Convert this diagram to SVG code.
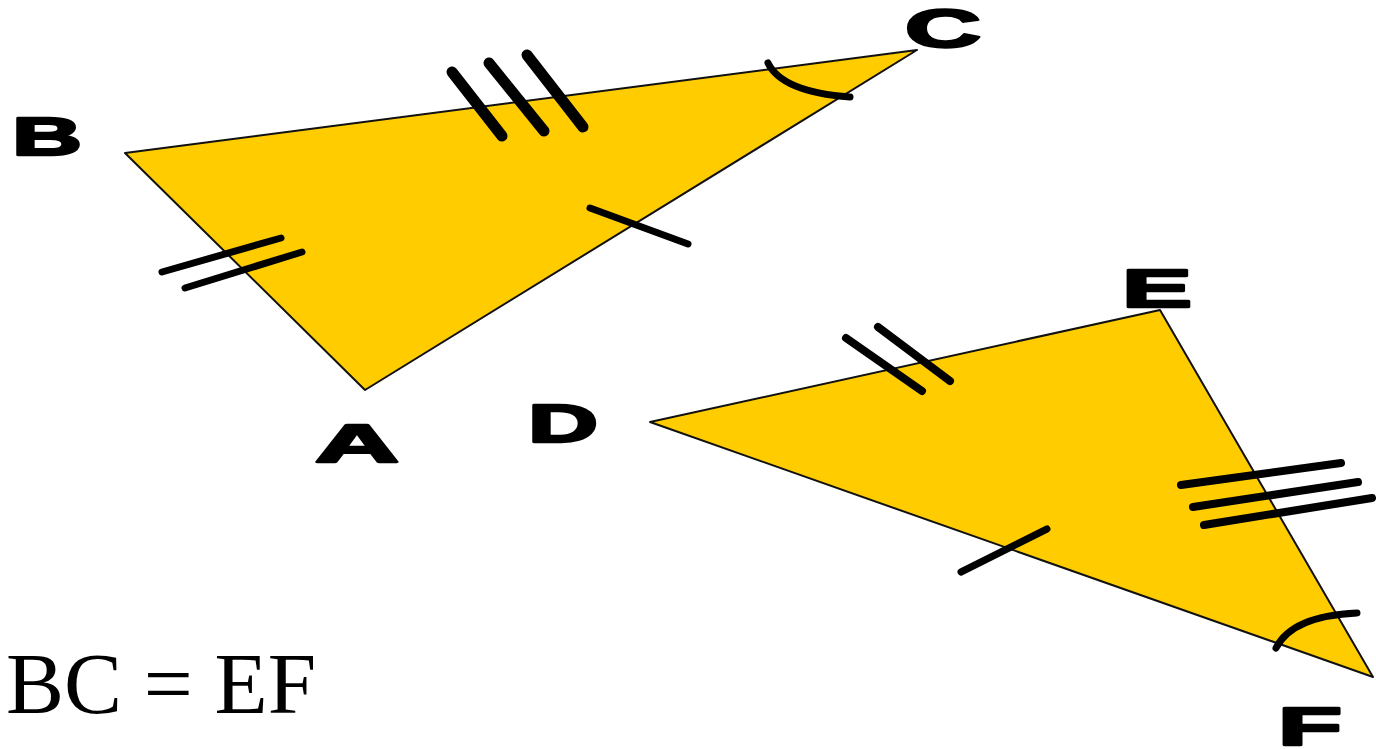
<svg xmlns="http://www.w3.org/2000/svg" width="1376" height="749" viewBox="0 0 1376 749">
<style>
.tri{fill:#FFCC00;stroke:#111;stroke-width:2;stroke-linejoin:round}
.tk{stroke:#000;stroke-linecap:round;fill:none}
.lbl{font-family:"Liberation Sans",Arial,sans-serif;font-weight:bold;font-size:54px;fill:#000;stroke:#000;stroke-width:2.5;stroke-linejoin:round}
.eq{font-family:"Liberation Serif","Times New Roman",serif;font-size:87px;fill:#000}
</style>
<rect width="1376" height="749" fill="#fff"/>
<g id="triangleABC">
<polygon class="tri" points="125,153 917,50 365,390"/>
<line class="tk" stroke-width="11" x1="452" y1="72" x2="502" y2="136"/>
<line class="tk" stroke-width="11" x1="489" y1="63" x2="544" y2="131"/>
<line class="tk" stroke-width="11" x1="527" y1="55" x2="583" y2="127"/>
<line class="tk" stroke-width="7" x1="590" y1="208" x2="688" y2="244"/>
<line class="tk" stroke-width="7" x1="162" y1="272" x2="281" y2="238"/>
<line class="tk" stroke-width="7" x1="185" y1="288" x2="302" y2="252"/>
<path class="tk" stroke-width="7" d="M768,63 Q782,92 850,97"/>
</g>
<g id="triangleDEF">
<polygon class="tri" points="650,422 1160,310 1373,677"/>
<line class="tk" stroke-width="8" x1="846" y1="338" x2="922" y2="391"/>
<line class="tk" stroke-width="8" x1="878" y1="327" x2="950" y2="381"/>
<line class="tk" stroke-width="7" x1="961" y1="572" x2="1047" y2="529"/>
<line class="tk" stroke-width="8" x1="1181" y1="485" x2="1341" y2="463"/>
<line class="tk" stroke-width="8" x1="1193" y1="507" x2="1358" y2="482"/>
<line class="tk" stroke-width="8" x1="1204" y1="525" x2="1372" y2="498"/>
<path class="tk" stroke-width="7" d="M1276,648 Q1292,616 1357,613"/>
</g>
<g id="labels">
<text class="lbl" x="12" y="155" textLength="70" lengthAdjust="spacingAndGlyphs">B</text>
<text class="lbl" x="905" y="47" textLength="76" lengthAdjust="spacingAndGlyphs">C</text>
<text class="lbl" x="315" y="462" textLength="84" lengthAdjust="spacingAndGlyphs">A</text>
<text class="lbl" x="528" y="442" textLength="70" lengthAdjust="spacingAndGlyphs">D</text>
<text class="lbl" x="1122" y="307" textLength="70" lengthAdjust="spacingAndGlyphs">E</text>
<text class="lbl" x="1278" y="745" textLength="64" lengthAdjust="spacingAndGlyphs">F</text>
</g>
<text id="equation" class="eq" x="6" y="713">BC = EF</text>
</svg>
